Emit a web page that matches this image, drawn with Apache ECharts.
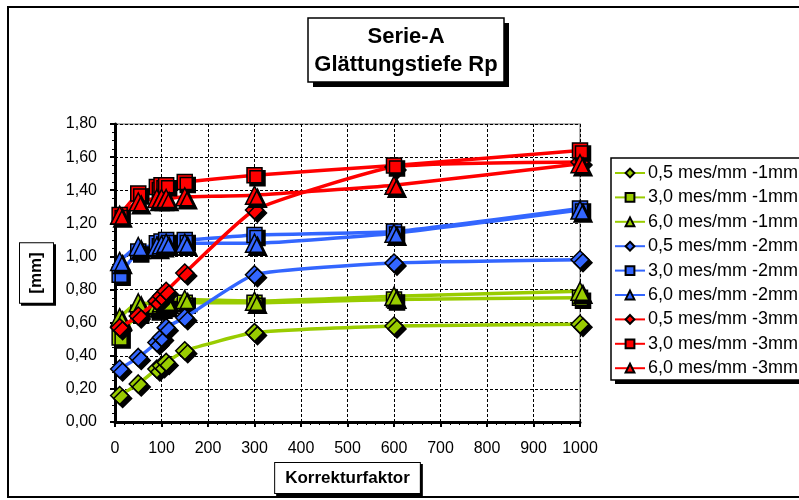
<!DOCTYPE html>
<html>
<head>
<meta charset="utf-8">
<script src="https://cdn.jsdelivr.net/npm/echarts@6/dist/echarts.min.js"></script>
<style>
html, body { margin: 0; padding: 0; background: #fff; }
#main { width: 799px; height: 500px; }
</style>
</head>
<body>
<div id="main"></div>
<script>
// Messpunkte (Korrekturfaktor)
var korrektur = [10, 50, 90, 100, 110, 150, 300, 600, 1000];

// 1mm
var d05_1 = [0.16, 0.23, 0.32, 0.34, 0.36, 0.43, 0.54, 0.58, 0.59];
var d30_1 = [0.51, 0.66, 0.68, 0.69, 0.70, 0.72, 0.72, 0.74, 0.75];
var d60_1 = [0.63, 0.72, 0.71, 0.72, 0.73, 0.74, 0.73, 0.76, 0.79];
// 2mm
var d05_2 = [0.32, 0.39, 0.48, 0.51, 0.57, 0.63, 0.89, 0.96, 0.98];
var d30_2 = [0.89, 1.03, 1.08, 1.09, 1.10, 1.10, 1.13, 1.15, 1.29];
var d60_2 = [0.97, 1.06, 1.06, 1.07, 1.08, 1.08, 1.08, 1.14, 1.28];
// 3mm
var d05_3 = [0.57, 0.64, 0.73, 0.76, 0.79, 0.90, 1.28, 1.54, 1.57];
var d30_3 = [1.25, 1.38, 1.42, 1.43, 1.43, 1.45, 1.49, 1.55, 1.64];
var d60_3 = [1.25, 1.33, 1.35, 1.35, 1.35, 1.36, 1.37, 1.43, 1.56];

var names = ['0,5 mes/mm -1mm', '3,0 mes/mm -1mm', '6,0 mes/mm -1mm',
             '0,5 mes/mm -2mm', '3,0 mes/mm -2mm', '6,0 mes/mm -2mm',
             '0,5 mes/mm -3mm', '3,0 mes/mm -3mm', '6,0 mes/mm -3mm'];

var werte = [d05_1, d30_1, d60_1, d05_2, d30_2, d60_2, d05_3, d30_3, d60_3];
var farben = ['#99cc00', '#99cc00', '#99cc00', '#3366ff', '#3366ff', '#3366ff', '#ff0000', '#ff0000', '#ff0000'];
var symbole = ['diamond', 'rect', 'triangle'];
var groesse = [18, 15, 18];

var myChart = echarts.init(document.getElementById('main'));

var series = werte.map(function (w, i) {
    return {
        name: names[i],
        type: 'line',
        data: korrektur.map(function (x, j) { return [x, w[j]]; }),
        smooth: 0.15,
        symbol: symbole[i % 3],
        symbolSize: groesse[i % 3],
        lineStyle: { color: farben[i], width: 3.5 },
        itemStyle: {
            color: farben[i], borderColor: '#000', borderWidth: 1.5,
            shadowColor: '#000', shadowOffsetX: 3, shadowOffsetY: 3, shadowBlur: 0
        },
        emphasis: { disabled: true },
        z: 3 + Math.floor(i / 3)
    };
});

// Kasten mit Schatten (Titel, Legende)
function kasten(x, y, w, h, s) {
    return [
        { type: 'rect', z: -5, shape: { x: x + s, y: y + s, width: w, height: h }, style: { fill: '#000' } },
        { type: 'rect', z: -4, shape: { x: x, y: y, width: w, height: h }, style: { fill: '#fff', stroke: '#000', lineWidth: 1.5 } }
    ];
}

var option = {
    animation: false,
    textStyle: { fontFamily: 'Liberation Sans, Arial, sans-serif' },
    graphic: [
        { type: 'rect', z: -10, shape: { x: 8, y: 7, width: 820, height: 490 },
          style: { fill: '#fff', stroke: '#000', lineWidth: 2 } }
    ].concat(kasten(308, 18, 196, 64, 5), kasten(611, 158, 220, 222, 4)),
    title: {
        text: 'Serie-A\nGlättungstiefe Rp',
        left: 406, top: 23,
        textAlign: 'center',
        padding: 0,
        textStyle: { fontSize: 22, fontWeight: 'bold', color: '#000', lineHeight: 28, fontFamily: 'Liberation Sans, Arial' }
    },
    legend: {
        data: names,
        orient: 'vertical',
        left: 611, top: 158,
        padding: [6, 60, 6, 3],
        itemGap: 6.4,
        itemWidth: 30, itemHeight: 11,
        textStyle: { fontSize: 18, color: '#000', padding: [0, 0, 0, -2] }
    },
    grid: { left: 115, right: 219, top: 124, bottom: 78, show: true, borderColor: '#999', borderWidth: 1.5, backgroundColor: 'transparent' },
    xAxis: {
        type: 'value', min: 0, max: 1000, interval: 100,
        name: 'Korrekturfaktor', nameLocation: 'middle', nameGap: 40,
        nameTextStyle: {
            fontSize: 17, fontWeight: 'bold', color: '#000',
            backgroundColor: '#fff', borderColor: '#000', borderWidth: 1,
            padding: [7, 10, 6, 10],
            shadowColor: '#000', shadowOffsetX: 2, shadowOffsetY: 2, shadowBlur: 0
        },
        axisLine: { lineStyle: { color: '#000', width: 3 } },
        axisTick: { show: true, length: 5, lineStyle: { width: 2 } },
        minorTick: { show: true, splitNumber: 5, length: 3, lineStyle: { color: '#000', width: 1 } },
        axisLabel: {
            fontSize: 16, color: '#000', margin: 19,
            formatter: function (v) { return String(v); }
        },
        splitLine: { show: true, lineStyle: { color: '#000', type: [3, 2], width: 1 } }
    },
    yAxis: {
        type: 'value', min: 0, max: 1.8, interval: 0.2,
        name: '[mm]', nameLocation: 'middle', nameGap: 62, nameRotate: 90,
        nameTextStyle: {
            fontSize: 17, fontWeight: 'bold', color: '#000',
            backgroundColor: '#fff', borderColor: '#000', borderWidth: 1,
            padding: [8, 9, 8, 9],
            shadowColor: '#000', shadowOffsetX: 2, shadowOffsetY: 2, shadowBlur: 0
        },
        axisLine: { show: true, lineStyle: { color: '#000', width: 3 } },
        axisTick: { show: true, length: 5, lineStyle: { width: 2 } },
        minorTick: { show: true, splitNumber: 4, length: 3, lineStyle: { color: '#000', width: 1 } },
        axisLabel: {
            fontSize: 16, color: '#000', margin: 18,
            formatter: function (v) { return v.toFixed(2).replace('.', ','); }
        },
        splitLine: { show: true, lineStyle: { color: '#000', type: [3, 2], width: 1 } }
    },
    series: series
};

myChart.setOption(option);
</script>
</body>
</html>
